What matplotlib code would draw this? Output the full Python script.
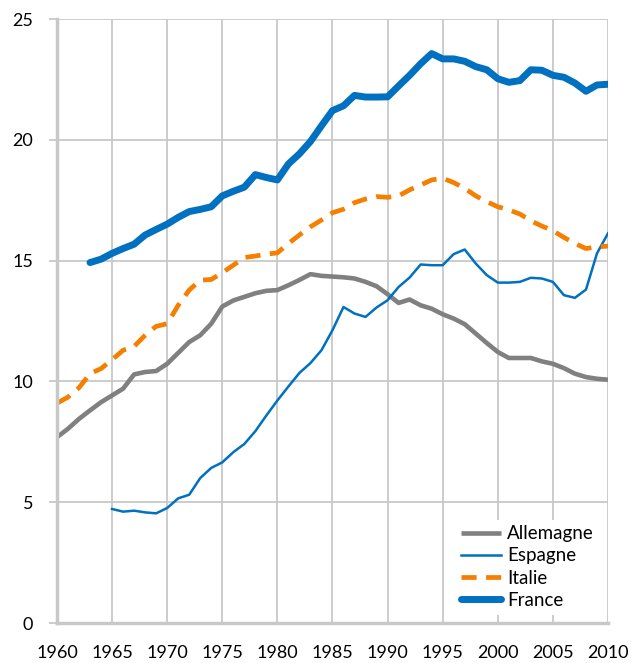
import matplotlib.pyplot as plt
import numpy as np

plt.rcParams['font.family'] = ['Lato', 'DejaVu Sans']

# données
years_all = list(range(1960, 2011))
allemagne = [7.69, 8.04, 8.45, 8.80, 9.14, 9.42, 9.70, 10.29, 10.39, 10.43,
             10.73, 11.18, 11.63, 11.91, 12.39, 13.10, 13.35, 13.50, 13.65, 13.75,
             13.78, 13.98, 14.20, 14.44, 14.37, 14.34, 14.31, 14.26, 14.12, 13.94,
             13.61, 13.25, 13.39, 13.15, 13.01, 12.78, 12.60, 12.37, 11.98, 11.59,
             11.22, 10.97, 10.97, 10.97, 10.83, 10.73, 10.55, 10.32, 10.18, 10.11,
             10.07]

years_esp = list(range(1965, 2011))
espagne = [4.72, 4.61, 4.65, 4.58, 4.54, 4.76, 5.16, 5.31, 6.00, 6.42,
           6.65, 7.07, 7.41, 7.94, 8.59, 9.21, 9.79, 10.35, 10.76, 11.29,
           12.12, 13.08, 12.81, 12.67, 13.06, 13.36, 13.91, 14.30, 14.84, 14.81,
           14.81, 15.27, 15.46, 14.88, 14.40, 14.09, 14.09, 14.12, 14.29, 14.26,
           14.12, 13.57, 13.46, 13.80, 15.30, 16.13]

italie = [9.10, 9.35, 9.74, 10.32, 10.53, 10.90, 11.29, 11.45, 11.91, 12.28,
          12.39, 13.15, 13.78, 14.19, 14.22, 14.50, 14.81, 15.13, 15.19, 15.27,
          15.32, 15.71, 16.06, 16.40, 16.68, 16.98, 17.13, 17.40, 17.55, 17.65,
          17.62, 17.68, 17.93, 18.13, 18.34, 18.41, 18.23, 17.99, 17.68, 17.44,
          17.23, 17.10, 16.93, 16.65, 16.43, 16.24, 15.96, 15.71, 15.50, 15.57,
          15.60]

years_fra = list(range(1963, 2011))
france = [14.92, 15.06, 15.30, 15.50, 15.68, 16.06, 16.29, 16.51, 16.79, 17.03,
          17.12, 17.23, 17.68, 17.87, 18.04, 18.56, 18.44, 18.34, 19.00, 19.42,
          19.93, 20.58, 21.21, 21.41, 21.84, 21.77, 21.77, 21.78, 22.23, 22.67,
          23.15, 23.57, 23.35, 23.35, 23.25, 23.03, 22.90, 22.53, 22.38, 22.45,
          22.90, 22.88, 22.67, 22.59, 22.35, 22.01, 22.27, 22.30]

x_ticks = list(range(1960, 2011, 5))
y_ticks = [0, 5, 10, 15, 20, 25]

blue = '#0070C0'
grey = '#808080'
orange = '#F47F00'
grid_col = '#C8C8C8'

fig = plt.figure(figsize=(6.4, 6.63), dpi=100)
ax = fig.add_axes([0.089, 0.0603, 0.861, 0.911])

ax.plot(years_all, allemagne, color=grey, lw=3.3, label='Allemagne', solid_capstyle='butt')
ax.plot(years_esp, espagne, color=blue, lw=1.8, label='Espagne')
ax.plot(years_all, italie, color=orange, lw=3.4, dashes=(3.2, 2.0), label='Italie')
ax.plot(years_fra, france, color=blue, lw=5, label='France', solid_capstyle='round')

ax.set_xlim(1960, 2010)
ax.set_ylim(0, 25)
ax.set_xticks(x_ticks)
ax.set_yticks(y_ticks)
ax.grid(True, color=grid_col, lw=1.3)
ax.set_axisbelow(True)

for s in ['top', 'right']:
    ax.spines[s].set_visible(False)
for s in ['left', 'bottom']:
    ax.spines[s].set_color(grid_col)
    ax.spines[s].set_linewidth(2.5)

ax.tick_params(labelsize=13, colors='#000000')
ax.tick_params(axis='x', length=0, pad=16)
ax.tick_params(axis='y', length=6, width=1.3, color=grid_col, pad=11)

leg = ax.legend(loc='lower right', bbox_to_anchor=(1.0, 0.0), frameon=True,
                fontsize=13.5, handlelength=2.15, handletextpad=0.32,
                labelspacing=0.28, borderaxespad=0.45, borderpad=0.3)
leg.get_frame().set_edgecolor('none')
leg.get_frame().set_facecolor('white')
leg.get_frame().set_alpha(1)

fig.savefig('out.png', dpi=100)
